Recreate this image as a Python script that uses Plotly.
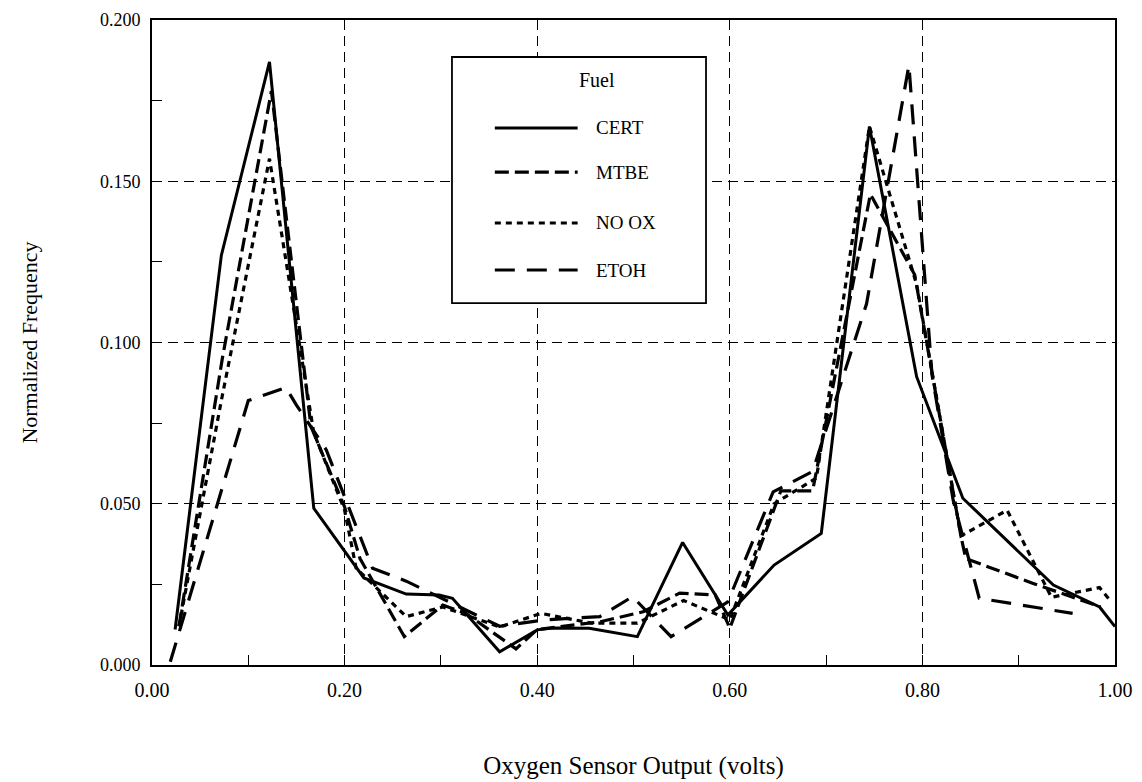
import plotly.graph_objects as go

# ---- data ----
fuels = ["CERT", "MTBE", "NO OX", "ETOH"]

cert_x = [0.024, 0.072, 0.122, 0.168, 0.220, 0.264, 0.298, 0.312, 0.361, 0.400, 0.416, 0.454, 0.504, 0.551, 0.598, 0.646, 0.695, 0.745, 0.794, 0.842, 0.936, 0.984, 1.000]
cert_y = [0.011, 0.127, 0.187, 0.0486, 0.027, 0.022, 0.0217, 0.0207, 0.0041, 0.0109, 0.0115, 0.0114, 0.0088, 0.038, 0.0155, 0.031, 0.0408, 0.167, 0.0894, 0.0517, 0.0248, 0.018, 0.0119]

mtbe_x = [0.028, 0.073, 0.124, 0.165, 0.200, 0.216, 0.262, 0.302, 0.326, 0.378, 0.400, 0.465, 0.510, 0.548, 0.585, 0.600, 0.653, 0.686, 0.746, 0.792, 0.840, 0.845, 0.915, 0.985]
mtbe_y = [0.012, 0.095, 0.178, 0.074, 0.049, 0.033, 0.0088, 0.0186, 0.016, 0.005, 0.011, 0.0134, 0.0165, 0.0223, 0.0217, 0.0114, 0.054, 0.054, 0.146, 0.121, 0.040, 0.033, 0.0253, 0.018]

noox_x = [0.028, 0.072, 0.122, 0.168, 0.200, 0.212, 0.264, 0.302, 0.361, 0.404, 0.456, 0.504, 0.552, 0.600, 0.646, 0.690, 0.745, 0.794, 0.840, 0.888, 0.934, 0.984, 0.995]
noox_y = [0.012, 0.082, 0.157, 0.072, 0.048, 0.030, 0.015, 0.018, 0.0118, 0.016, 0.013, 0.013, 0.020, 0.014, 0.050, 0.058, 0.167, 0.118, 0.040, 0.048, 0.021, 0.024, 0.020]

etoh_x = [0.019, 0.100, 0.139, 0.150, 0.181, 0.229, 0.264, 0.312, 0.361, 0.408, 0.465, 0.499, 0.539, 0.598, 0.645, 0.686, 0.742, 0.786, 0.810, 0.832, 0.859, 0.956]
etoh_y = [0.001, 0.082, 0.086, 0.0806, 0.0667, 0.030, 0.026, 0.019, 0.012, 0.014, 0.015, 0.0212, 0.0088, 0.0196, 0.0537, 0.060, 0.112, 0.186, 0.090, 0.051, 0.0207, 0.016]

x_ticks = [0.0, 0.2, 0.4, 0.6, 0.8, 1.0]
y_ticks = [0.0, 0.05, 0.1, 0.15, 0.2]

data = {
    "CERT": (cert_x, cert_y),
    "MTBE": (mtbe_x, mtbe_y),
    "NO OX": (noox_x, noox_y),
    "ETOH": (etoh_x, etoh_y),
}

# ---- styles ----
FONT = "Liberation Serif"
line_styles = {
    "CERT": dict(color="black", width=3, dash="solid"),
    "MTBE": dict(color="black", width=3.2, dash="14px,6px"),
    "NO OX": dict(color="black", width=3.2, dash="6px,5px"),
    "ETOH": dict(color="black", width=3.2, dash="20px,12px"),
}

fig = go.Figure()
for name in fuels:
    xs, ys = data[name]
    fig.add_trace(go.Scatter(x=xs, y=ys, mode="lines", name=name,
                             line=line_styles[name], showlegend=False))

axis_common = dict(
    showline=True, linecolor="black", linewidth=2, mirror=True,
    showgrid=True, gridcolor="black", gridwidth=1, griddash="10px,6px",
    zeroline=False, ticks="inside", ticklen=10, tickcolor="black",
    ticklabelstandoff=6, automargin=False,
)

fig.update_xaxes(range=[0, 1], tickvals=x_ticks, tickformat=".2f",
                 tickfont=dict(family=FONT, size=20, color="black"),
                 minor=dict(ticks="inside", ticklen=10, dtick=0.1, tick0=0, tickcolor="black", showgrid=False),
                 title=dict(text="Oxygen Sensor Output (volts)", font=dict(family=FONT, size=25, color="black"), standoff=56),
                 **axis_common)
fig.update_yaxes(range=[0, 0.2], tickvals=y_ticks, tickformat=".3f",
                 tickfont=dict(family=FONT, size=18, color="black"),
                 minor=dict(ticks="inside", ticklen=10, dtick=0.025, tick0=0, tickcolor="black", showgrid=False),
                 title=dict(text="Normalized Frequency", font=dict(family=FONT, size=22, color="black"), standoff=56),
                 **axis_common)

# ---- legend box (drawn in paper coordinates) ----
box = dict(x0=0.3115, x1=0.5753, y0=0.5612, y1=0.9426)
fig.add_shape(type="rect", xref="paper", yref="paper", line=dict(color="black", width=1.8),
              fillcolor="white", layer="above", **box)
fig.add_annotation(xref="paper", yref="paper", x=0.462, y=0.907, text="Fuel", showarrow=False,
                   font=dict(family=FONT, size=20, color="black"), xanchor="center", yanchor="middle")
legend_rows = [0.8326, 0.7643, 0.6853, 0.6124]
for name, ly in zip(fuels, legend_rows):
    fig.add_shape(type="line", xref="paper", yref="paper", x0=0.356, x1=0.442, y0=ly, y1=ly,
                  line=line_styles[name], layer="above")
    fig.add_annotation(xref="paper", yref="paper", x=0.459, y=ly, text=name, showarrow=False,
                       font=dict(family=FONT, size=19, color="black"), xanchor="left", yanchor="middle")

fig.update_layout(
    width=1142, height=782,
    margin=dict(l=152, r=27, t=20, b=117),
    paper_bgcolor="white", plot_bgcolor="white",
    font=dict(family=FONT, color="black"),
    showlegend=False,
)

fig.write_html("out.html")
